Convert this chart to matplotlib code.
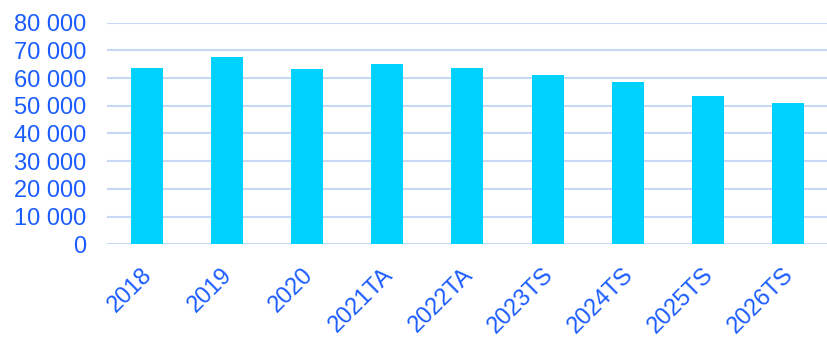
import matplotlib
matplotlib.use("Agg")
import matplotlib.pyplot as plt
import matplotlib.transforms as mtransforms
from matplotlib.ticker import FuncFormatter

categories = ["2018", "2019", "2020", "2021TA", "2022TA", "2023TS", "2024TS", "2025TS", "2026TS"]
values = [63500, 67700, 63250, 65000, 63500, 61100, 58550, 53400, 51000]

bar_color = "#00D2FF"
text_color = "#1A5CFF"
grid_color = "#C9D7F7"

plt.rcParams["font.family"] = ["Liberation Sans", "DejaVu Sans"]

fig = plt.figure(figsize=(8.28, 3.37), dpi=100)
ax = fig.add_axes([0.129, 0.275, 0.871, 0.658])

x = range(len(categories))
ax.bar(x, values, width=0.4, color=bar_color, zorder=3)

ax.set_xlim(-0.5, len(categories) - 0.5)
ax.set_ylim(0, 80000)
ax.set_yticks(range(0, 80001, 10000))
ax.yaxis.set_major_formatter(FuncFormatter(lambda v, p: f"{int(v):,}".replace(",", " ")))
ax.grid(axis="y", color=grid_color, linewidth=1.5, zorder=0)
ax.set_axisbelow(True)

ax.set_xticks(list(x))
ax.set_xticklabels(categories, rotation=45, ha="right", rotation_mode="anchor")

for s in ax.spines.values():
    s.set_visible(False)
ax.tick_params(axis="both", length=0, labelsize=17, labelcolor=text_color)
ax.tick_params(axis="y", pad=15)
ax.tick_params(axis="x", pad=14)

# nudge the rotated category labels slightly to the left
shift = mtransforms.ScaledTranslation(-4 / 72, 0, fig.dpi_scale_trans)
for lbl in ax.get_xticklabels():
    lbl.set_transform(lbl.get_transform() + shift)

fig.savefig("out.png", dpi=100)
